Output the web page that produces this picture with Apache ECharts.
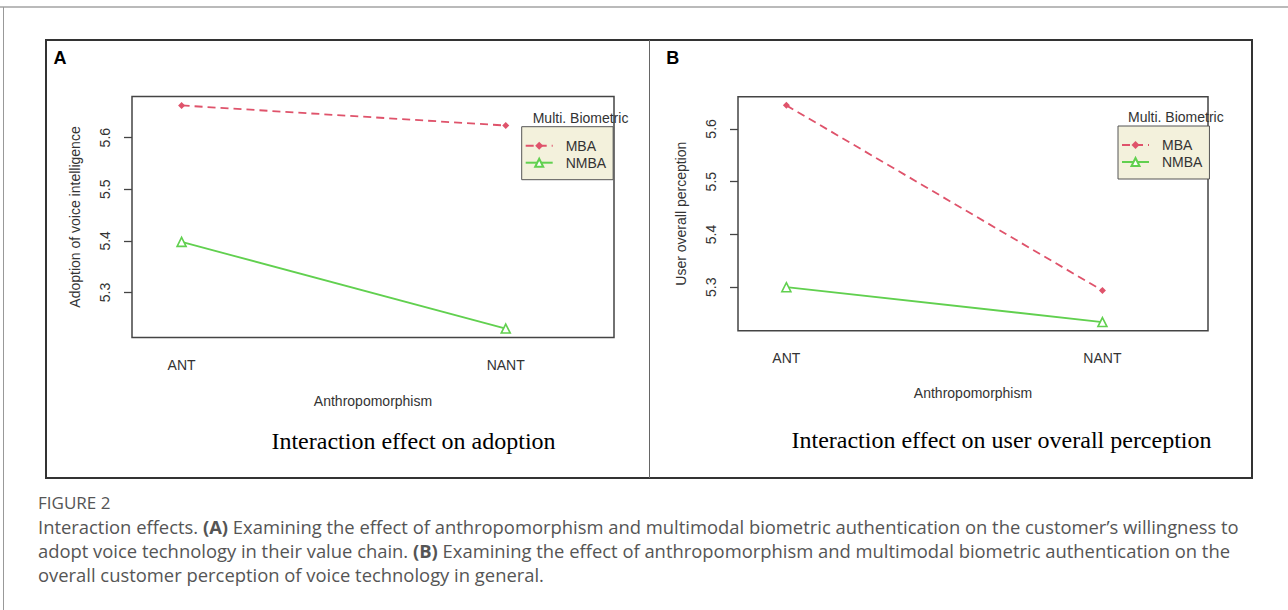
<!DOCTYPE html>
<html><head><meta charset="utf-8">
<script src="https://cdn.jsdelivr.net/npm/echarts@6/dist/echarts.min.js"></script>
<style>html,body{margin:0;padding:0;background:#fff}#c{width:1288px;height:610px}</style>
</head><body><div id="c"></div>
<script>
// ---- data ----
const categories = ['ANT', 'NANT'];
const seriesNames = ['MBA', 'NMBA'];
const adoptionMBA = [5.6625, 5.6235];
const adoptionNMBA = [5.398, 5.230];
const perceptionMBA = [5.6446, 5.2937];
const perceptionNMBA = [5.300, 5.234];
const yTicks = [5.3, 5.4, 5.5, 5.6];
const xTicks = [1, 2];
const panelTitles = ['Interaction effect on adoption', 'Interaction effect on user overall perception'];
const yNames = ['Adoption of voice intelligence', 'User overall perception'];
const xName = 'Anthropomorphism';
const legendTitle = 'Multi. Biometric';

// ---- helpers ----
const RED = '#DF536B', GREEN = '#61D04F';
const SANS = '"Liberation Sans", Arial, sans-serif';
const toPts = arr => arr.map((v, i) => [xTicks[i], v]);
function yRange(a, b) {
  const all = a.concat(b);
  const mn = Math.min(...all), mx = Math.max(...all);
  const pad = 0.04 * (mx - mn);
  return [mn - pad, mx + pad];
}
const rA = yRange(adoptionMBA, adoptionNMBA);
const rB = yRange(perceptionMBA, perceptionNMBA);

function xAxis(idx, gap) {
  return {
    gridIndex: idx, type: 'value', min: 0.847, max: 2.334,
    name: xName, nameLocation: 'middle', nameGap: gap,
    nameTextStyle: { fontSize: 14, color: '#333', fontFamily: SANS },
    axisLine: { show: false }, axisTick: { show: false }, splitLine: { show: false },
    axisLabel: { customValues: xTicks, margin: 20, fontSize: 14, color: '#333', fontFamily: SANS,
      formatter: v => categories[Math.round(v) - 1] || '' }
  };
}
function yAxis(idx, r, name) {
  return {
    gridIndex: idx, type: 'value', min: r[0], max: r[1],
    name: name, nameLocation: 'middle', nameGap: 50, nameRotate: 90,
    nameTextStyle: { fontSize: 14, color: '#333', fontFamily: SANS },
    axisLine: { show: false }, splitLine: { show: false },
    axisTick: { show: true, customValues: yTicks, length: 8, lineStyle: { color: '#444', width: 1.3 } },
    axisLabel: { customValues: yTicks, rotate: 90, margin: 20, fontSize: 14, color: '#333', fontFamily: SANS,
      formatter: v => v.toFixed(1) }
  };
}
function mbaSeries(idx, data) {
  return { type: 'line', name: seriesNames[0], xAxisIndex: idx, yAxisIndex: idx, data: toPts(data),
    symbol: 'diamond', symbolSize: 7,
    lineStyle: { color: RED, width: 1.8, type: [8, 5] }, itemStyle: { color: RED } };
}
function nmbaSeries(idx, data) {
  return { type: 'line', name: seriesNames[1], xAxisIndex: idx, yAxisIndex: idx, data: toPts(data),
    symbol: 'triangle', symbolSize: 9,
    lineStyle: { color: GREEN, width: 1.8 },
    itemStyle: { color: '#fff', borderColor: GREEN, borderWidth: 1.6 } };
}
function legend(left, top) {
  return {
    data: seriesNames, orient: 'vertical', left: left, top: top,
    backgroundColor: '#f3f1dc', borderColor: '#555', borderWidth: 1, borderRadius: 0,
    padding: [12, 7, 10, 3], itemGap: 3, itemWidth: 27, itemHeight: 10,
    selectedMode: false,
    textStyle: { fontSize: 14, color: '#333', fontFamily: SANS, padding: [0, 0, 0, 8] }
  };
}
function txt(x, y, text, font, fill, align) {
  return { type: 'text', x: x, y: y, silent: true,
    style: { text: text, font: font, fill: fill || '#000', textAlign: align || 'center', textVerticalAlign: 'middle' } };
}
const CAP = '18.4px "Open Sans", sans-serif';
const capRich = { b: { fontWeight: 'bold', fontSize: 18.4, fontFamily: '"Open Sans", sans-serif', fill: '#555' } };
function capLine(y, text) {
  return { type: 'text', x: 38, y: y, silent: true,
    style: { text: text, font: CAP, fill: '#555', textAlign: 'left', textVerticalAlign: 'middle', rich: capRich } };
}

const chart = echarts.init(document.getElementById('c'), null, { renderer: 'svg' });
chart.setOption({
  animation: false,
  backgroundColor: '#fff',
  grid: [
    { left: 132, top: 96.5, width: 482, height: 241, show: true, borderColor: '#444', borderWidth: 1.5, backgroundColor: 'transparent' },
    { left: 738, top: 96.7, width: 470, height: 234, show: true, borderColor: '#444', borderWidth: 1.5, backgroundColor: 'transparent' }
  ],
  xAxis: [xAxis(0, 56), xAxis(1, 55)],
  yAxis: [yAxis(0, rA, yNames[0]), yAxis(1, rB, yNames[1])],
  legend: [legend(521.7, 126.7), legend(1118, 126)],
  series: [mbaSeries(0, adoptionMBA), nmbaSeries(0, adoptionNMBA), mbaSeries(1, perceptionMBA), nmbaSeries(1, perceptionNMBA)],
  graphic: [
    { type: 'line', silent: true, shape: { x1: 0, y1: 7, x2: 1288, y2: 7 }, style: { stroke: '#777', lineWidth: 1.2 } },
    { type: 'line', silent: true, shape: { x1: 3.5, y1: 7, x2: 3.5, y2: 610 }, style: { stroke: '#999', lineWidth: 1 } },
    { type: 'rect', silent: true, shape: { x: 46, y: 40, width: 1206, height: 438 }, style: { fill: 'none', stroke: '#333', lineWidth: 2 } },
    { type: 'line', silent: true, shape: { x1: 649.5, y1: 40, x2: 649.5, y2: 478 }, style: { stroke: '#666', lineWidth: 1 } },
    txt(60, 58, 'A', 'bold 18px "Liberation Sans", Arial, sans-serif'),
    txt(672.7, 58, 'B', 'bold 18px "Liberation Sans", Arial, sans-serif'),
    txt(532.7, 117.7, legendTitle, '14px "Liberation Sans", Arial, sans-serif', '#333', 'left'),
    txt(1128, 117.3, legendTitle, '14px "Liberation Sans", Arial, sans-serif', '#333', 'left'),
    txt(413.5, 440.7, panelTitles[0], '24px "Liberation Serif", "Times New Roman", serif', '#000'),
    txt(1001.5, 440.3, panelTitles[1], '24px "Liberation Serif", "Times New Roman", serif', '#000'),
    txt(38, 502, 'FIGURE 2', '17px "Open Sans", sans-serif', '#555', 'left'),
    capLine(526, 'Interaction effects. {b|(A)} Examining the effect of anthropomorphism and multimodal biometric authentication on the customer\u2019s willingness to'),
    capLine(550, 'adopt voice technology in their value chain. {b|(B)} Examining the effect of anthropomorphism and multimodal biometric authentication on the'),
    capLine(574, 'overall customer perception of voice technology in general.')
  ]
});
</script>
</body></html>
